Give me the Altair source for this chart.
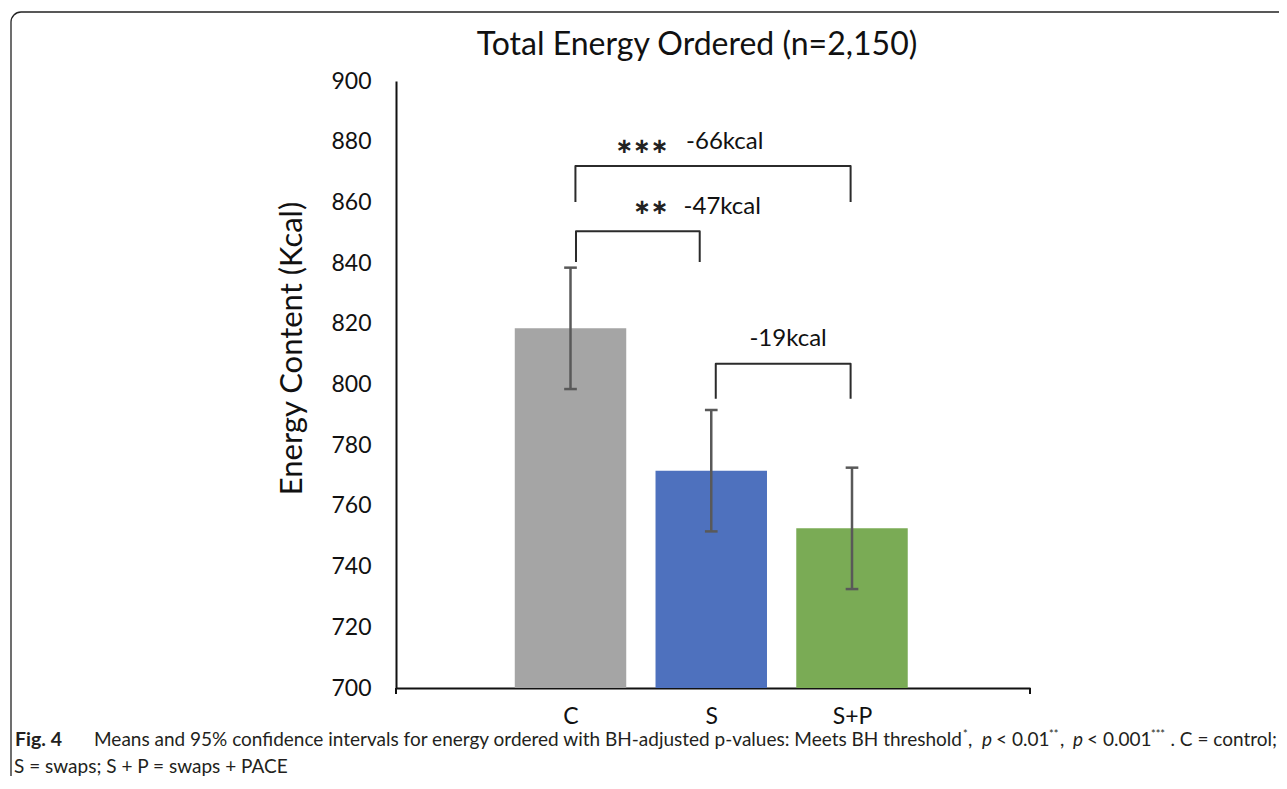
import altair as alt
import pandas as pd

# ---------------- data ----------------
categories = ["C", "S", "S+P"]
positions = [0, 1, 2]
means = [818.5, 771.6, 752.6]
ci_low = [798.5, 751.6, 732.6]
ci_high = [838.5, 791.6, 772.6]
bar_colors = ["#A5A5A5", "#4E71BE", "#7AAB55"]

y_ticks = [700, 720, 740, 760, 780, 800, 820, 840, 860, 880, 900]

# significance brackets (positions in category units, values in kcal)
bracket_left = [0.035, 0.039, 1.032]
bracket_right = [1.99, 0.918, 1.99]
bracket_top = [872.0, 850.5, 806.8]
bracket_foot = [860.1, 840.4, 795.3]

star_x = [0.507, 0.571]
star_y = [878.4, 858.3]
star_text = ["∗∗∗", "∗∗"]

diff_x = [1.096, 1.078, 1.546]
diff_y = [880.0, 858.6, 815.0]
diff_text = ["-66kcal", "-47kcal", "-19kcal"]

# ---------------- layout ----------------
W, H = 634, 607
PAD_L, PAD_T = 388, 73
OX, OY = PAD_L + 8, PAD_T + 8   # page position of the plot origin
X_DOMAIN = [-1.2398, 3.2646]
HALF_BAR = 0.396
HALF_CAP = 0.045
FONT = "Lato"

df = pd.DataFrame({"cat": categories, "pos": positions, "mean": means,
                   "lo": ci_low, "hi": ci_high})

rows = []
for i in range(len(bracket_left)):
    pts = [(bracket_left[i], bracket_foot[i]), (bracket_left[i], bracket_top[i]),
           (bracket_right[i], bracket_top[i]), (bracket_right[i], bracket_foot[i])]
    for k, (px, py) in enumerate(pts):
        rows.append({"b": i, "k": k, "bx": px, "by": py})
brackets = pd.DataFrame(rows)
stars = pd.DataFrame({"x": star_x, "y": star_y, "t": star_text})
diffs = pd.DataFrame({"x": diff_x, "y": diff_y, "t": diff_text})
axis_ends = pd.DataFrame({"e": X_DOMAIN})

xscale = alt.Scale(domain=X_DOMAIN, nice=False, zero=False)
yscale = alt.Scale(domain=[700, 900], nice=False, zero=False)

base = alt.Chart(df)

bars = base.mark_bar().transform_calculate(
    x0=f"datum.pos - {HALF_BAR}", x1=f"datum.pos + {HALF_BAR}"
).encode(
    x=alt.X("x0:Q", scale=xscale,
            axis=alt.Axis(values=positions, title=None, grid=False, ticks=False,
                          labelExpr="['C','S','S+P'][datum.value]",
                          labelFont=FONT, labelFontSize=23, labelColor="#111",
                          labelPadding=17, domainColor="#111", domainWidth=2)),
    x2="x1:Q",
    y=alt.Y("mean:Q", scale=yscale,
            axis=alt.Axis(values=y_ticks, grid=False, ticks=False,
                          title="Energy Content (Kcal)", titleFont=FONT,
                          titleFontSize=31, titleFontWeight="normal", titleColor="#111",
                          titleX=-104, titleY=267, titleAngle=270,
                          titleAlign="center", titleBaseline="middle",
                          labelFont=FONT, labelFontSize=23, labelColor="#111",
                          labelPadding=25, domainColor="#111", domainWidth=2)),
    y2=alt.datum(700),
    color=alt.Color("cat:N", scale=alt.Scale(domain=categories, range=bar_colors), legend=None),
)

end_ticks = alt.Chart(axis_ends).mark_rule(color="#111", strokeWidth=2).encode(
    x=alt.X("e:Q", scale=xscale), y=alt.datum(700), y2=alt.value(H + 6))

err_line = base.mark_rule(color="#595959", strokeWidth=2.5).encode(
    x="pos:Q", y="lo:Q", y2="hi:Q")
err_caps_hi = base.mark_rule(color="#595959", strokeWidth=2.5).transform_calculate(
    c0=f"datum.pos - {HALF_CAP}", c1=f"datum.pos + {HALF_CAP}"
).encode(x="c0:Q", x2="c1:Q", y="hi:Q")
err_caps_lo = base.mark_rule(color="#595959", strokeWidth=2.5).transform_calculate(
    c0=f"datum.pos - {HALF_CAP}", c1=f"datum.pos + {HALF_CAP}"
).encode(x="c0:Q", x2="c1:Q", y="lo:Q")

bracket_lines = alt.Chart(brackets).mark_line(
    color="#2b2b2b", strokeWidth=2, strokeJoin="round"
).encode(x="bx:Q", y="by:Q", detail="b:N", order="k:Q")

star_marks = alt.Chart(stars).mark_text(
    font="DejaVu Sans", fontWeight="bold", fontSize=21, color="#222",
    align="center", baseline="middle"
).encode(x="x:Q", y="y:Q", text="t:N")

diff_marks = alt.Chart(diffs).mark_text(
    font=FONT, fontSize=24, color="#111", align="center", baseline="middle"
).encode(x="x:Q", y="y:Q", text="t:N")

one = pd.DataFrame({"a": [0]})


def free_text(text, px, py, size=19, weight="normal", style="normal",
              align="left", baseline="alphabetic", color="#231f20", font=FONT):
    return alt.Chart(one).mark_text(
        text=text, font=font, fontSize=size, fontWeight=weight, fontStyle=style,
        align=align, baseline=baseline, color=color
    ).encode(x=alt.value(px - OX), y=alt.value(py - OY))


frame = alt.Chart(one).mark_rect(
    fillOpacity=0, stroke="#222", strokeWidth=1.3, cornerRadius=10
).encode(x=alt.value(11 - OX), x2=alt.value(1320 - OX),
         y=alt.value(12 - OY), y2=alt.value(830 - OY))

title = free_text("Total Energy Ordered (n=2,150)", 697, 45, size=32,
                  align="center", baseline="middle", color="#111")

L1, L2 = 746, 773
SUP = 8
caption = [
    free_text("Fig. 4", 15, L1, weight="bold", size=19.5),
    free_text("Means and 95% confidence intervals for energy ordered with BH-adjusted p-values: Meets BH threshold", 94, L1),
    free_text("*", 963, L1 - SUP, size=11),
    free_text(",", 968, L1),
    free_text("p", 982, L1, style="italic"),
    free_text("< 0.01", 996, L1),
    free_text("**", 1049, L1 - SUP, size=11),
    free_text(",", 1060, L1),
    free_text("p", 1073, L1, style="italic"),
    free_text("< 0.001", 1087, L1),
    free_text("***", 1151, L1 - SUP, size=11),
    free_text(". C = control;", 1277, L1, align="right"),
    free_text("S = swaps; S + P = swaps + PACE", 14, L2),
]

chart = alt.layer(
    frame, bars, end_ticks, err_line, err_caps_hi, err_caps_lo, bracket_lines,
    star_marks, diff_marks, title, *caption
).properties(
    width=W, height=H,
    background="white",
    autosize=alt.AutoSizeParams(type="none"),
    padding={"left": PAD_L, "top": PAD_T, "right": 1271 - PAD_L - W, "bottom": 768 - PAD_T - H},
).configure_view(stroke="transparent", strokeWidth=0)

chart.save("out.html", embed_options={"renderer": "svg", "actions": False})
